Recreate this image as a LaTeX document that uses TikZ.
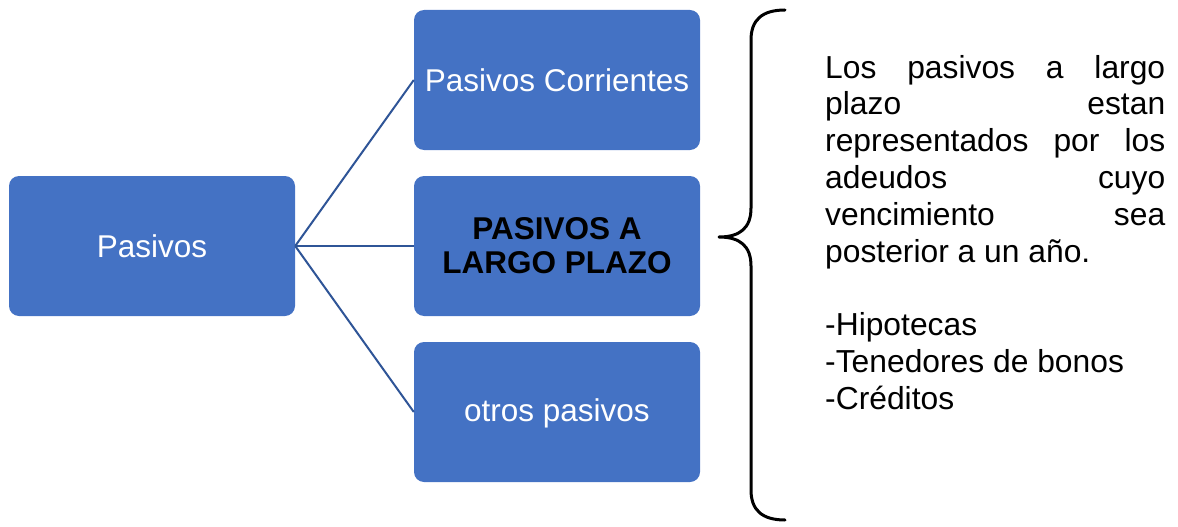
\documentclass[tikz,border=0pt]{standalone}
\usepackage{fontspec}
\setmainfont{Liberation Sans}
\definecolor{boxblue}{HTML}{4472C4}
\definecolor{linkblue}{HTML}{2F5597}
\begin{document}
\begin{tikzpicture}[x=1pt,y=-1pt,
  box/.style={rectangle, rounded corners=10pt, fill=boxblue, minimum width=286pt,
    minimum height=140pt, inner sep=0pt, font=\fontsize{31.5}{36.6}\selectfont, text=white},
  link/.style={draw=linkblue, line width=2pt},
  brace/.style={draw=black, line width=3pt, line cap=round, line join=round},
  desc/.style={anchor=base west, inner sep=0pt, font=\fontsize{31.8}{36.8}\selectfont}]
\useasboundingbox (0,0) rectangle (1178,527);
\node[box] (root) at (152,246) {Pasivos};
\node[box] (cur) at (557,80) {Pasivos Corrientes};
\node[box, text=black, font=\fontsize{31.5}{34}\selectfont\bfseries, align=center] (lp) at (557,246) {PASIVOS A\\LARGO PLAZO};
\node[box, text depth=3pt] (otros) at (557,412) {otros pasivos};
\draw[link] (root.east) -- (cur.west);
\draw[link] (root.east) -- (lp.west);
\draw[link] (root.east) -- (otros.west);
\draw[brace] (785,10) .. controls (762,10) and (751,20) .. (751,40) -- (751,208)
  .. controls (751,228) and (740,237) .. (719,237)
  .. controls (740,237) and (751,246) .. (751,266) -- (751,490)
  .. controls (751,510) and (762,520) .. (785,520);
\node[desc] (txt) at (825,78) {\parbox[t]{340pt}{%
Los\hfill pasivos\hfill a\hfill largo\\
plazo\hfill estan\\
representados\hfill por\hfill los\\
adeudos\hfill cuyo\\
vencimiento\hfill sea\\
posterior a un año.\\[36.8pt]
-Hipotecas\\
-Tenedores de bonos\\
-Créditos}};
\end{tikzpicture}
\end{document}
